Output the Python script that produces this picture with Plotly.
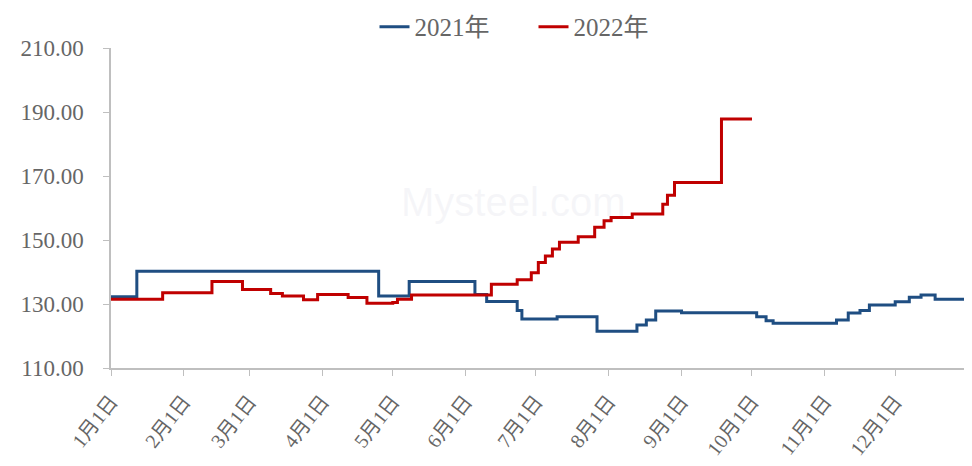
import plotly.graph_objects as go

YEAR = "2021-"

blue_name = "2021年"
blue_dates = ["01-01", "01-12", "04-25", "05-08", "06-05", "06-10", "06-23", "06-25",
              "07-10", "07-27", "08-13", "08-17", "08-21", "09-01", "10-03", "10-07",
              "10-10", "11-06", "11-11", "11-16", "11-20", "12-01", "12-07", "12-12",
              "12-18", "12-31"]
blue_vals = [132.3, 140.2, 132.5, 137.0, 133.0, 130.8, 128.0, 125.3,
             126.0, 121.5, 123.4, 125.0, 127.8, 127.3, 126.0, 124.8,
             124.0, 125.0, 127.2, 128.0, 129.7, 130.7, 132.1, 132.8,
             131.5, 131.5]

red_name = "2022年"
red_dates = ["01-01", "01-23", "02-13", "02-26", "03-10", "03-15", "03-24", "03-30",
             "04-12", "04-20", "05-01", "05-03", "05-09", "06-12", "06-23", "06-29",
             "07-02", "07-05", "07-08", "07-11", "07-19", "07-26", "07-30", "08-02",
             "08-11", "08-24", "08-26", "08-29", "09-18", "10-01"]
red_vals = [131.5, 133.5, 137.0, 134.5, 133.3, 132.5, 131.3, 133.0,
            132.0, 130.2, 130.5, 131.5, 132.8, 136.2, 137.6, 139.8,
            143.0, 145.0, 147.2, 149.3, 151.0, 154.0, 156.0, 157.0,
            158.1, 161.2, 164.0, 168.0, 187.8, 187.8]

tick_dates = ["01-01", "02-01", "03-01", "04-01", "05-01", "06-01", "07-01",
              "08-01", "09-01", "10-01", "11-01", "12-01"]
tick_labels = ["1月1日", "2月1日", "3月1日", "4月1日", "5月1日", "6月1日", "7月1日",
               "8月1日", "9月1日", "10月1日", "11月1日", "12月1日"]

y_range = [110, 210]
y_step = 20

FONT = "Liberation Serif, Noto Sans CJK SC, serif"
GRAY = "#666666"
AXIS = "#BFBFBF"

fig = go.Figure()
fig.add_trace(go.Scatter(
    x=[YEAR + d for d in blue_dates], y=blue_vals, name=blue_name,
    mode="lines", line=dict(color="#1F4E82", width=3, shape="hv")))
fig.add_trace(go.Scatter(
    x=[YEAR + d for d in red_dates], y=red_vals, name=red_name,
    mode="lines", line=dict(color="#C00000", width=3, shape="hv")))

fig.add_annotation(text="Mysteel.com", x=0.47, y=0.52, xref="paper", yref="paper",
                   showarrow=False,
                   font=dict(family="Liberation Sans, sans-serif", size=40,
                             color="rgba(215,218,228,0.25)"))

# page body has an 8px default margin, so the figure is shifted by 8px
fig.update_layout(
    width=964, height=458,
    margin=dict(l=103, r=4, t=40, b=98, autoexpand=False),
    paper_bgcolor="white", plot_bgcolor="white",
    font=dict(family=FONT, color=GRAY),
    showlegend=True,
    legend=dict(orientation="h", x=0.493, xanchor="center", y=1.066, yanchor="middle",
                font=dict(family=FONT, size=25, color=GRAY),
                entrywidth=114, entrywidthmode="pixels",
                bgcolor="rgba(0,0,0,0)"),
    xaxis=dict(
        type="date", range=[YEAR + "01-01", "2022-01-01"],
        tickvals=[YEAR + d for d in tick_dates] + ["2022-01-01"],
        ticktext=tick_labels + [""],
        tickangle=-52, showgrid=False, showline=True, linecolor=AXIS, linewidth=1.5,
        ticks="outside", ticklen=6, tickcolor=AXIS, automargin=False,
        ticklabelstandoff=6,
        tickfont=dict(family=FONT, size=20, color=GRAY), zeroline=False),
    yaxis=dict(
        range=y_range, dtick=y_step, tick0=y_range[0], tickformat=".2f",
        showgrid=False, showline=True, linecolor=AXIS, linewidth=1.5,
        ticks="outside", ticklen=6, tickcolor=AXIS, automargin=False,
        ticklabelstandoff=15,
        tickfont=dict(family=FONT, size=23, color=GRAY), zeroline=False),
)

fig.write_html("out.html")
